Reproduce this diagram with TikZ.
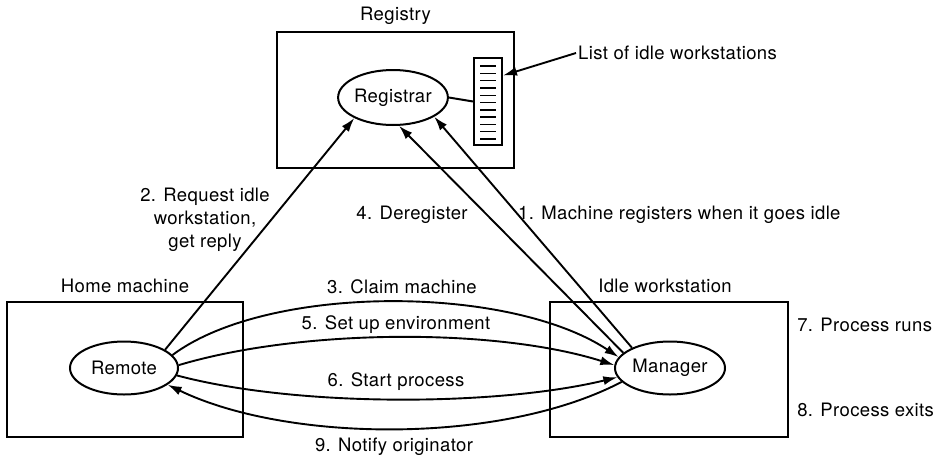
\documentclass[tikz,border=0pt]{standalone}
\usepackage{fontspec}
\setmainfont[LetterSpace=2]{TeX Gyre Heros}
\usetikzlibrary{arrows.meta,shapes.geometric}

\begin{document}
\begin{tikzpicture}[x=1pt,y=-1pt,
    >={Latex[length=14pt,width=9pt]},
    every node/.style={font=\fontsize{18.5}{23}\selectfont},
    box/.style ={rectangle,draw,line width=2.2pt,inner sep=0pt},
    proc/.style={ellipse,draw,line width=2pt,inner sep=0pt},
    arr/.style ={->,line width=1.9pt},
    lab/.style ={inner sep=2pt,align=center}
  ]
  \useasboundingbox (0,0) rectangle (943,456);
  % the three machines
  \node[box,minimum width=237pt,minimum height=136pt] (reg)  at (395.5,100) {};
  \node[box,minimum width=236pt,minimum height=135pt] (home) at (125,369.5) {};
  \node[box,minimum width=238pt,minimum height=135pt] (idle) at (669,369.5) {};
  \node[lab,anchor=south,yshift=4pt] at (reg.north)  {Registry};
  \node[lab,anchor=south,yshift=6pt] at (home.north) {Home machine};
  \node[lab,anchor=south,yshift=6pt,xshift=-4pt] at (idle.north) {Idle workstation};
  % processes
  \node[proc,minimum width=104pt,minimum height=55pt] (Rg) at (393,97.5) {Registrar};
  \node[proc,minimum width=108pt,minimum height=53pt] (Rm) at (124,368) {Remote};
  \node[proc,minimum width=110pt,minimum height=53pt] (Mg) at (670,368) {Manager};
  % list of idle workstations
  \node[rectangle,draw,line width=2pt,minimum width=28pt,minimum height=87pt,inner sep=0pt]
       (list) at (488,101.5) {};
  \foreach \y in {0,...,10}
    \draw[line width=1.4pt] (480,{66+\y*7.3}) -- (496,{66+\y*7.3});
  \draw[line width=2pt] (Rg.east) -- (list.west);
  \node[lab,anchor=west] (listlab) at (576,53) {List of idle workstations};
  \draw[arr] (listlab.west) -- (list.60);
  % messages
  \draw[arr] (Rm.24) -- (Rg.208);
  \node[lab] at (205,220) {2. Request idle\\workstation,\\get reply};
  \draw[arr] (Mg.152) -- (Rg.335);
  \node[lab,anchor=west] at (516,215) {1. Machine registers when it goes idle};
  \draw[arr] (Mg.162) -- (Rg.282);
  \node[lab] at (412,215) {4. Deregister};
  \draw[arr] (Rm.15) .. controls +(95,-71) and +(-110,-73) .. (Mg.168);
  \node[lab] at (402,287) {3. Claim machine};
  \draw[arr] (Rm.3) .. controls +(120,-36) and +(-120,-38) .. (Mg.177);
  \node[lab] at (396,325) {5. Set up environment};
  \draw[arr] (Rm.-8) .. controls +(120,32) and +(-120,29) .. (Mg.190);
  \node[lab] at (396,382) {6. Start process};
  \draw[arr] (Mg.196) .. controls +(-120,63) and +(120,58) .. (Rm.-21);
  \node[lab] at (394,447) {9. Notify originator};
  % what happens on the idle workstation
  \node[lab,anchor=west,xshift=6pt,yshift=44.5pt]  at (idle.east) {7. Process runs};
  \node[lab,anchor=west,xshift=6pt,yshift=-40.5pt] at (idle.east) {8. Process exits};
\end{tikzpicture}
\end{document}
